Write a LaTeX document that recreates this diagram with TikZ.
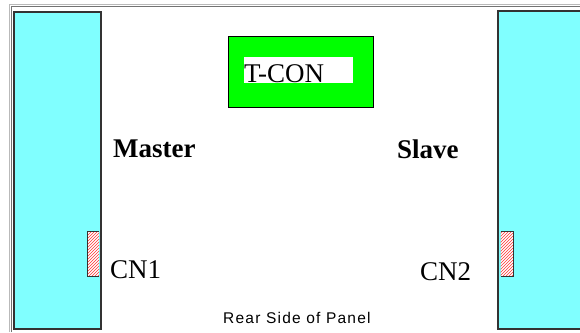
\documentclass[tikz,border=0pt]{standalone}
\usepackage{fontspec}
\setmainfont{Liberation Serif}
\newfontfamily\labelsans{Liberation Sans}
\usetikzlibrary{patterns}
\definecolor{panelcyan}{HTML}{80FFFF}
\definecolor{tcongreen}{HTML}{00FF00}
\definecolor{borderdark}{HTML}{333333}
\tikzset{
  panel/.style={fill=panelcyan, draw=borderdark, line width=2pt},
  conn/.style={fill=white, draw=borderdark, line width=1pt, pattern=north east lines, pattern color=red!80},
  bigtext/.style={inner sep=0pt, anchor=base west, font=\fontsize{27}{30}\selectfont},
}
\begin{document}
\begin{tikzpicture}[x=1pt,y=-1pt]
\useasboundingbox (0,0) rectangle (580,332);
\fill[white] (0,0) rectangle (580,332);
\begin{scope}
\clip (0,0) rectangle (580,332);
% frame
\draw[gray!55, line width=1.2pt] (9.5,332) -- (9.5,4.5) -- (582,4.5);
\draw[gray!90!black, line width=1pt] (11.5,332) -- (11.5,6.5) -- (582,6.5);
% panels
\draw[panel] (14,12) rectangle (101,329);
\draw[panel] (583,11) -- (498,11) -- (498,329) -- (583,329);
% connectors
\fill[white] (87,231) rectangle (99,276);
\draw[conn] (99,231) -- (87,231) -- (87,276) -- (99,276);
\fill[white] (500.5,231) rectangle (513,276);
\draw[conn] (500.5,231) -- (513,231) -- (513,276) -- (500.5,276);
\end{scope}
% T-CON box
\node[draw=black, line width=0.8pt, fill=tcongreen, minimum width=145pt, minimum height=71pt, inner sep=0pt] (tconbox) at (300.5,71.5) {};
\node[fill=white, minimum width=109pt, minimum height=26pt, inner sep=0pt] (tconwhite) at (298.5,70) {};
\node[bigtext] (tcon) at (244,82) {T-CON};
% labels
\node[bigtext, font=\fontsize{27}{30}\selectfont\bfseries] (master) at (113,157) {Master};
\node[bigtext, font=\fontsize{27}{30}\selectfont\bfseries] (slave) at (397,158) {Slave};
\node[bigtext] (cn1) at (110,278) {CN1};
\node[bigtext] (cn2) at (420,280) {CN2};
\node[inner sep=0pt, anchor=base west, font=\labelsans\fontsize{15.5}{18}\selectfont\addfontfeature{LetterSpace=8}] (rear) at (223,323) {Rear Side of Panel};
\end{tikzpicture}
\end{document}
